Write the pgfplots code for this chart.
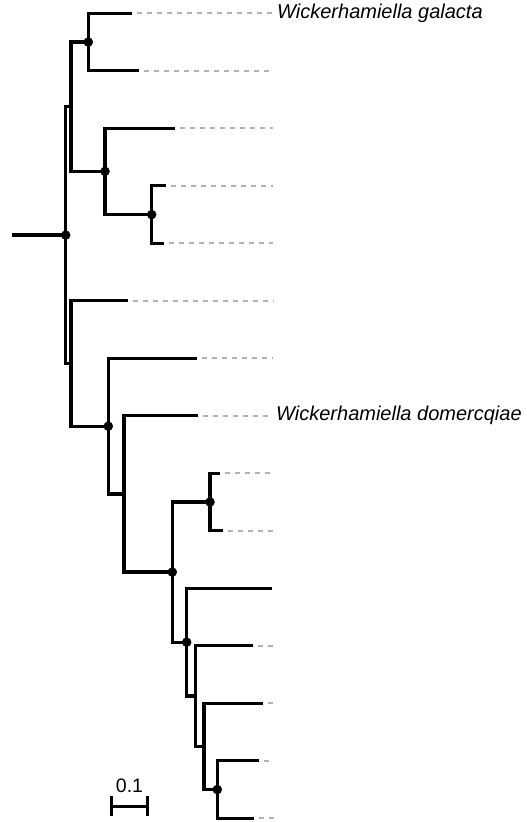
\documentclass[border=0pt]{standalone}
\usepackage{fontspec}
\setmainfont{Liberation Sans}
\usepackage{pgfplots}
\pgfplotsset{compat=1.18}
\definecolor{dashgrey}{RGB}{178,178,178}
\begin{document}
\begin{tikzpicture}
\begin{axis}[
  width=527pt, height=822pt, scale only axis,
  xmin=0, xmax=527, ymin=0, ymax=822, y dir=reverse,
  hide axis, clip=false,
  tree/.style={black, line width=3.3pt, line join=miter, line cap=butt, no marks},
  guide/.style={dashgrey, line width=2.3pt, dash pattern=on 5pt off 5pt, dash phase=5pt, no marks},
]
\path (axis cs:0,0) rectangle (axis cs:527,822);
% dashed guides (leaf tip -> 273)
\addplot[guide] coordinates {(132.3,13.3) (273,13.3)};
\addplot[guide] coordinates {(139.3,70.8) (273,70.8)};
\addplot[guide] coordinates {(175,128.3) (273,128.3)};
\addplot[guide] coordinates {(165.7,185.8) (273,185.8)};
\addplot[guide] coordinates {(164.3,243.3) (273,243.3)};
\addplot[guide] coordinates {(127.7,300.8) (273,300.8)};
\addplot[guide] coordinates {(196.7,358.3) (273,358.3)};
\addplot[guide] coordinates {(198.3,415.8) (273,415.8)};
\addplot[guide] coordinates {(220,473.3) (273,473.3)};
\addplot[guide] coordinates {(223.3,530.8) (273,530.8)};
\addplot[guide] coordinates {(253.3,645.8) (273,645.8)};
\addplot[guide] coordinates {(263.3,703.3) (273,703.3)};
\addplot[guide] coordinates {(259.3,760.8) (273,760.8)};
\addplot[guide] coordinates {(254,818.3) (275,818.3)};
% tree branches
\addplot[tree] coordinates {(11.7,235.1) (65.7,235.1)};
\addplot[tree] coordinates {(71,106.7) (65.7,106.7) (65.7,363.5) (71,363.5)};
\addplot[tree] coordinates {(88.3,42.05) (71,42.05) (71,171.4) (105,171.4)};
\addplot[tree] coordinates {(132.3,13.3) (88.3,13.3) (88.3,70.8) (139.3,70.8)};
\addplot[tree] coordinates {(175,128.3) (105,128.3) (105,214.55) (151.7,214.55)};
\addplot[tree] coordinates {(165.7,185.8) (151.7,185.8) (151.7,243.3) (164.3,243.3)};
\addplot[tree] coordinates {(127.7,300.8) (71,300.8) (71,426.2) (108.3,426.2)};
\addplot[tree] coordinates {(196.7,358.3) (108.3,358.3) (108.3,494) (124,494)};
\addplot[tree] coordinates {(198.3,415.8) (124,415.8) (124,572.1) (172.3,572.1)};
\addplot[tree] coordinates {(210,502.05) (172.3,502.05) (172.3,642.2) (186.7,642.2)};
\addplot[tree] coordinates {(220,473.3) (210,473.3) (210,530.8) (223.3,530.8)};
\addplot[tree] coordinates {(271.7,588.3) (186.7,588.3) (186.7,696.1) (195.7,696.1)};
\addplot[tree] coordinates {(253.3,645.8) (195.7,645.8) (195.7,746.4) (204,746.4)};
\addplot[tree] coordinates {(263.3,703.3) (204,703.3) (204,789.55) (217.3,789.55)};
\addplot[tree] coordinates {(259.3,760.8) (217.3,760.8) (217.3,818.3) (254,818.3)};
% supported nodes
\addplot[only marks, mark=*, mark size=4.5pt, black] coordinates {
  (88.3,42.05) (151.7,214.55) (105,171.4) (65.7,235.1) (108.3,426.2)
  (210,502.05) (172.3,572.1) (186.7,642.2) (217.3,789.55)};
% scale bar
\addplot[black, line width=3pt, no marks] coordinates {(111,806) (147.7,806)};
\addplot[black, line width=3pt, no marks] coordinates {(111,796) (111,816)};
\addplot[black, line width=3pt, no marks] coordinates {(147.7,796) (147.7,816)};
\node[font=\fontsize{19.5}{20}\selectfont, anchor=base] at (axis cs:129.5,792) {0.1};
% labels
\node[font=\fontsize{20}{22}\selectfont\itshape, anchor=west, inner sep=0pt] at (axis cs:277,13.3) {Wickerhamiella galacta};
\node[font=\fontsize{20}{22}\selectfont\itshape, anchor=west, inner sep=0pt] at (axis cs:276,415.8) {Wickerhamiella domercqiae};
\end{axis}
\end{tikzpicture}
\end{document}
